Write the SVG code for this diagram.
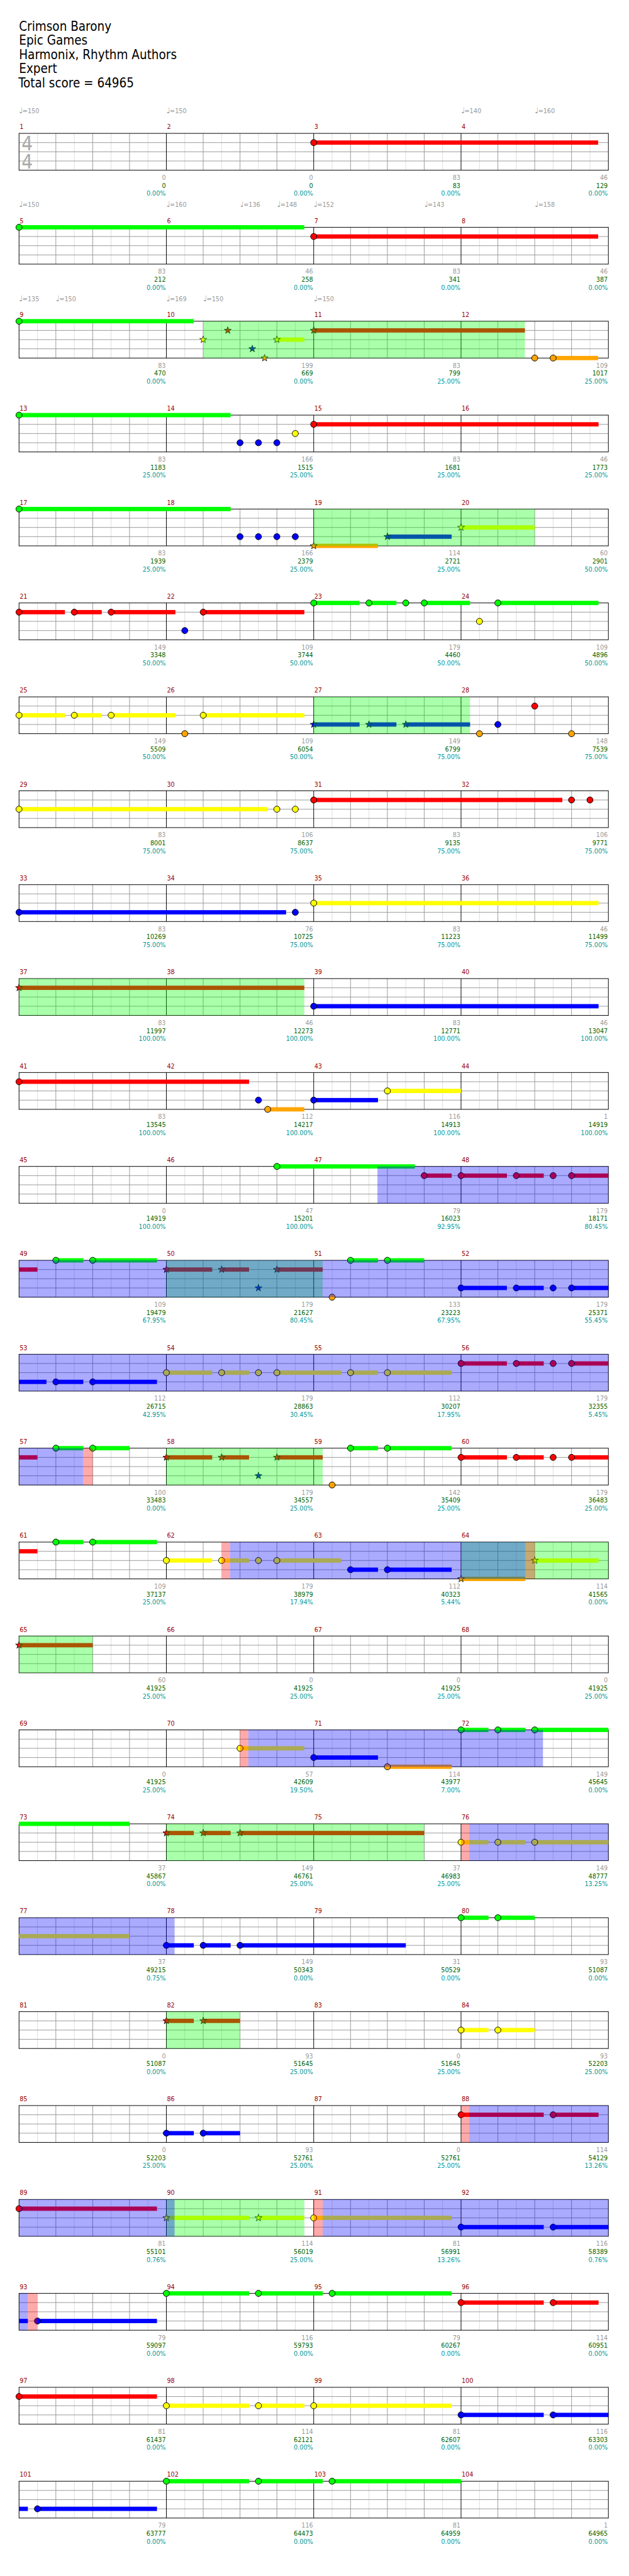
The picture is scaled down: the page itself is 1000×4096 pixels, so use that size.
<svg xmlns="http://www.w3.org/2000/svg" xmlns:xlink="http://www.w3.org/1999/xlink" width="1000" height="4096" viewBox="0 0 1000 4096">
<style>
.ttl{font-family:"DejaVu Sans Condensed","DejaVu Sans",sans-serif;font-stretch:condensed;font-size:21px;fill:#000}
.sm{font-family:"DejaVu Sans Condensed","DejaVu Sans",sans-serif;font-stretch:condensed;font-size:11px}
.mn{fill:#990000}
.tp{fill:#999}
.nt{font-family:"DejaVu Sans",sans-serif;font-stretch:normal;font-size:13px}
.ts{font-size:32px;fill:#aaa}
.a{text-anchor:end;fill:#999}
.c{text-anchor:end;fill:#006400}
.p{text-anchor:end;fill:#009999}
.G{fill:#00ff00}.R{fill:#ff0000}.Y{fill:#ffff00}.B{fill:#0000ff}.O{fill:#ffa500}
.n{stroke:#000;stroke-width:1}
.og{fill:#00ff00;fill-opacity:.333}.ob{fill:#0000ff;fill-opacity:.333}.or{fill:#ff0000;fill-opacity:.333}
</style>
<defs>
<g id="grid" fill="none">
<path stroke="#dddddd" d="M61 0V60M121 0V60M181 0V60M241 0V60M301 0V60M361 0V60M421 0V60M481 0V60M541 0V60M601 0V60M661 0V60M721 0V60M781 0V60M841 0V60M901 0V60M961 0V60"/>
<path stroke="#999999" d="M91 0V60M151 0V60M211 0V60M331 0V60M391 0V60M451 0V60M571 0V60M631 0V60M691 0V60M811 0V60M871 0V60M931 0V60M31 15H991M31 30H991M31 45H991"/>
<path stroke="#000" d="M271 0V60M511 0V60M751 0V60"/>
<rect x="31" y="0" width="960" height="60" stroke="#000"/>
</g>
<polygon id="st" points="0,-6 1.41,-1.94 5.71,-1.85 2.28,0.74 3.53,4.85 0,2.4 -3.53,4.85 -2.28,0.74 -5.71,-1.85 -1.41,-1.94" stroke="#000" stroke-width="0.8"/>
</defs>
<rect width="1000" height="4096" fill="#fff"/>
<g transform="scale(0.976)">
<g id="header" class="ttl">
<text x="31" y="50">Crimson Barony</text>
<text x="31" y="73">Epic Games</text>
<text x="31" y="96">Harmonix, Rhythm Authors</text>
<text x="31" y="119">Expert</text>
<text x="30" y="142">Total score = 64965</text>
</g>

<g id="row1" transform="translate(0,217.3)">
<g class="sm tp">
<text x="31" y="-33"><tspan class="nt">♩</tspan><tspan x="36.7">=150</tspan></text>
<text x="271" y="-33"><tspan class="nt">♩</tspan><tspan x="276.7">=150</tspan></text>
<text x="751" y="-33"><tspan class="nt">♩</tspan><tspan x="756.7">=140</tspan></text>
<text x="871" y="-33"><tspan class="nt">♩</tspan><tspan x="876.7">=160</tspan></text>
</g>
<use href="#grid"/>
<text class="sm ts" x="35" y="27.7">4</text><text class="sm ts" x="35" y="57">4</text>
<rect class="R" x="511" y="11.5" width="463.3" height="7"/>
<circle class="n R" cx="511" cy="15" r="5"/>
<g class="sm mn"><text x="32" y="-7">1</text><text x="272" y="-7">2</text><text x="512" y="-7">3</text><text x="752" y="-7">4</text></g>
<g class="sm">
<text class="a" x="270" y="75.7">0</text><text class="c" x="270" y="88.7">0</text><text class="p" x="270" y="101.7">0.00%</text>
<text class="a" x="510" y="75.7">0</text><text class="c" x="510" y="88.7">0</text><text class="p" x="510" y="101.7">0.00%</text>
<text class="a" x="750" y="75.7">83</text><text class="c" x="750" y="88.7">83</text><text class="p" x="750" y="101.7">0.00%</text>
<text class="a" x="990" y="75.7">46</text><text class="c" x="990" y="88.7">129</text><text class="p" x="990" y="101.7">0.00%</text>
</g>
</g>

<g id="row2" transform="translate(0,370.3)">
<g class="sm tp">
<text x="31" y="-33"><tspan class="nt">♩</tspan><tspan x="36.7">=150</tspan></text>
<text x="271" y="-33"><tspan class="nt">♩</tspan><tspan x="276.7">=160</tspan></text>
<text x="391" y="-33"><tspan class="nt">♩</tspan><tspan x="396.7">=136</tspan></text>
<text x="451" y="-33"><tspan class="nt">♩</tspan><tspan x="456.7">=148</tspan></text>
<text x="511" y="-33"><tspan class="nt">♩</tspan><tspan x="516.7">=152</tspan></text>
<text x="691" y="-33"><tspan class="nt">♩</tspan><tspan x="696.7">=143</tspan></text>
<text x="871" y="-33"><tspan class="nt">♩</tspan><tspan x="876.7">=158</tspan></text>
</g>
<use href="#grid"/>
<rect class="G" x="31" y="-3.5" width="464.7" height="7"/>
<rect class="R" x="511" y="11.5" width="463.3" height="7"/>
<circle class="n G" cx="31" cy="0" r="5"/>
<circle class="n R" cx="511" cy="15" r="5"/>
<g class="sm mn"><text x="32" y="-7">5</text><text x="272" y="-7">6</text><text x="512" y="-7">7</text><text x="752" y="-7">8</text></g>
<g class="sm">
<text class="a" x="270" y="75.7">83</text><text class="c" x="270" y="88.7">212</text><text class="p" x="270" y="101.7">0.00%</text>
<text class="a" x="510" y="75.7">46</text><text class="c" x="510" y="88.7">258</text><text class="p" x="510" y="101.7">0.00%</text>
<text class="a" x="750" y="75.7">83</text><text class="c" x="750" y="88.7">341</text><text class="p" x="750" y="101.7">0.00%</text>
<text class="a" x="990" y="75.7">46</text><text class="c" x="990" y="88.7">387</text><text class="p" x="990" y="101.7">0.00%</text>
</g>
</g>

<g id="row3" transform="translate(0,523.3)">
<g class="sm tp">
<text x="31" y="-33"><tspan class="nt">♩</tspan><tspan x="36.7">=135</tspan></text>
<text x="91" y="-33"><tspan class="nt">♩</tspan><tspan x="96.7">=150</tspan></text>
<text x="271" y="-33"><tspan class="nt">♩</tspan><tspan x="276.7">=169</tspan></text>
<text x="331" y="-33"><tspan class="nt">♩</tspan><tspan x="336.7">=150</tspan></text>
<text x="511" y="-33"><tspan class="nt">♩</tspan><tspan x="516.7">=150</tspan></text>
</g>
<use href="#grid"/>
<rect class="G" x="31" y="-3.5" width="284.7" height="7"/>
<rect class="Y" x="451" y="26.5" width="44.7" height="7"/>
<rect class="R" x="511" y="11.5" width="344" height="7"/>
<rect class="O" x="901" y="56.5" width="73.3" height="7"/>
<circle class="n G" cx="31" cy="0" r="5"/>
<use href="#st" x="331" y="30" class="Y"/>
<use href="#st" x="371" y="15" class="R"/>
<use href="#st" x="411" y="45" class="B"/>
<use href="#st" x="431" y="60" class="O"/>
<use href="#st" x="451" y="30" class="Y"/>
<use href="#st" x="511" y="15" class="R"/>
<circle class="n O" cx="871" cy="60" r="5"/>
<circle class="n O" cx="901" cy="60" r="5"/>
<rect class="og" x="331" y="0" width="524" height="60"/>
<g class="sm mn"><text x="32" y="-7">9</text><text x="272" y="-7">10</text><text x="512" y="-7">11</text><text x="752" y="-7">12</text></g>
<g class="sm">
<text class="a" x="270" y="75.7">83</text><text class="c" x="270" y="88.7">470</text><text class="p" x="270" y="101.7">0.00%</text>
<text class="a" x="510" y="75.7">199</text><text class="c" x="510" y="88.7">669</text><text class="p" x="510" y="101.7">0.00%</text>
<text class="a" x="750" y="75.7">83</text><text class="c" x="750" y="88.7">799</text><text class="p" x="750" y="101.7">25.00%</text>
<text class="a" x="990" y="75.7">109</text><text class="c" x="990" y="88.7">1017</text><text class="p" x="990" y="101.7">25.00%</text>
</g>
</g>

<g id="row4" transform="translate(0,676.3)">
<use href="#grid"/>
<rect class="G" x="31" y="-3.5" width="344.7" height="7"/>
<rect class="R" x="511" y="11.5" width="464" height="7"/>
<circle class="n G" cx="31" cy="0" r="5"/>
<circle class="n B" cx="391" cy="45" r="5"/>
<circle class="n B" cx="421" cy="45" r="5"/>
<circle class="n B" cx="451" cy="45" r="5"/>
<circle class="n Y" cx="481" cy="30" r="5"/>
<circle class="n R" cx="511" cy="15" r="5"/>
<g class="sm mn"><text x="32" y="-7">13</text><text x="272" y="-7">14</text><text x="512" y="-7">15</text><text x="752" y="-7">16</text></g>
<g class="sm">
<text class="a" x="270" y="75.7">83</text><text class="c" x="270" y="88.7">1183</text><text class="p" x="270" y="101.7">25.00%</text>
<text class="a" x="510" y="75.7">166</text><text class="c" x="510" y="88.7">1515</text><text class="p" x="510" y="101.7">25.00%</text>
<text class="a" x="750" y="75.7">83</text><text class="c" x="750" y="88.7">1681</text><text class="p" x="750" y="101.7">25.00%</text>
<text class="a" x="990" y="75.7">46</text><text class="c" x="990" y="88.7">1773</text><text class="p" x="990" y="101.7">25.00%</text>
</g>
</g>

<g id="row5" transform="translate(0,829.3)">
<use href="#grid"/>
<rect class="G" x="31" y="-3.5" width="344.7" height="7"/>
<rect class="O" x="511" y="56.5" width="104.7" height="7"/>
<rect class="B" x="631" y="41.5" width="104.7" height="7"/>
<rect class="Y" x="751" y="26.5" width="120" height="7"/>
<circle class="n G" cx="31" cy="0" r="5"/>
<circle class="n B" cx="391" cy="45" r="5"/>
<circle class="n B" cx="421" cy="45" r="5"/>
<circle class="n B" cx="451" cy="45" r="5"/>
<circle class="n B" cx="481" cy="45" r="5"/>
<use href="#st" x="511" y="60" class="O"/>
<use href="#st" x="631" y="45" class="B"/>
<use href="#st" x="751" y="30" class="Y"/>
<rect class="og" x="511" y="0" width="360" height="60"/>
<g class="sm mn"><text x="32" y="-7">17</text><text x="272" y="-7">18</text><text x="512" y="-7">19</text><text x="752" y="-7">20</text></g>
<g class="sm">
<text class="a" x="270" y="75.7">83</text><text class="c" x="270" y="88.7">1939</text><text class="p" x="270" y="101.7">25.00%</text>
<text class="a" x="510" y="75.7">166</text><text class="c" x="510" y="88.7">2379</text><text class="p" x="510" y="101.7">25.00%</text>
<text class="a" x="750" y="75.7">114</text><text class="c" x="750" y="88.7">2721</text><text class="p" x="750" y="101.7">25.00%</text>
<text class="a" x="990" y="75.7">60</text><text class="c" x="990" y="88.7">2901</text><text class="p" x="990" y="101.7">50.00%</text>
</g>
</g>

<g id="row6" transform="translate(0,982.3)">
<use href="#grid"/>
<rect class="R" x="31" y="11.5" width="74.7" height="7"/>
<rect class="R" x="121" y="11.5" width="44.7" height="7"/>
<rect class="R" x="181" y="11.5" width="104.7" height="7"/>
<rect class="R" x="331" y="11.5" width="164.7" height="7"/>
<rect class="G" x="511" y="-3.5" width="74.7" height="7"/>
<rect class="G" x="601" y="-3.5" width="44.7" height="7"/>
<rect class="G" x="691" y="-3.5" width="74.7" height="7"/>
<rect class="G" x="811" y="-3.5" width="164" height="7"/>
<circle class="n R" cx="31" cy="15" r="5"/>
<circle class="n R" cx="121" cy="15" r="5"/>
<circle class="n R" cx="181" cy="15" r="5"/>
<circle class="n B" cx="301" cy="45" r="5"/>
<circle class="n R" cx="331" cy="15" r="5"/>
<circle class="n G" cx="511" cy="0" r="5"/>
<circle class="n G" cx="601" cy="0" r="5"/>
<circle class="n G" cx="661" cy="0" r="5"/>
<circle class="n G" cx="691" cy="0" r="5"/>
<circle class="n Y" cx="781" cy="30" r="5"/>
<circle class="n G" cx="811" cy="0" r="5"/>
<g class="sm mn"><text x="32" y="-7">21</text><text x="272" y="-7">22</text><text x="512" y="-7">23</text><text x="752" y="-7">24</text></g>
<g class="sm">
<text class="a" x="270" y="75.7">149</text><text class="c" x="270" y="88.7">3348</text><text class="p" x="270" y="101.7">50.00%</text>
<text class="a" x="510" y="75.7">109</text><text class="c" x="510" y="88.7">3744</text><text class="p" x="510" y="101.7">50.00%</text>
<text class="a" x="750" y="75.7">179</text><text class="c" x="750" y="88.7">4460</text><text class="p" x="750" y="101.7">50.00%</text>
<text class="a" x="990" y="75.7">109</text><text class="c" x="990" y="88.7">4896</text><text class="p" x="990" y="101.7">50.00%</text>
</g>
</g>

<g id="row7" transform="translate(0,1135.3)">
<use href="#grid"/>
<rect class="Y" x="31" y="26.5" width="74.7" height="7"/>
<rect class="Y" x="121" y="26.5" width="44.7" height="7"/>
<rect class="Y" x="181" y="26.5" width="104.7" height="7"/>
<rect class="Y" x="331" y="26.5" width="164.7" height="7"/>
<rect class="B" x="511" y="41.5" width="74.7" height="7"/>
<rect class="B" x="601" y="41.5" width="44.7" height="7"/>
<rect class="B" x="661" y="41.5" width="104.7" height="7"/>
<circle class="n Y" cx="31" cy="30" r="5"/>
<circle class="n Y" cx="121" cy="30" r="5"/>
<circle class="n Y" cx="181" cy="30" r="5"/>
<circle class="n O" cx="301" cy="60" r="5"/>
<circle class="n Y" cx="331" cy="30" r="5"/>
<use href="#st" x="511" y="45" class="B"/>
<use href="#st" x="601" y="45" class="B"/>
<use href="#st" x="661" y="45" class="B"/>
<circle class="n O" cx="781" cy="60" r="5"/>
<circle class="n B" cx="811" cy="45" r="5"/>
<circle class="n R" cx="871" cy="15" r="5"/>
<circle class="n O" cx="931" cy="60" r="5"/>
<rect class="og" x="511" y="0" width="254.7" height="60"/>
<g class="sm mn"><text x="32" y="-7">25</text><text x="272" y="-7">26</text><text x="512" y="-7">27</text><text x="752" y="-7">28</text></g>
<g class="sm">
<text class="a" x="270" y="75.7">149</text><text class="c" x="270" y="88.7">5509</text><text class="p" x="270" y="101.7">50.00%</text>
<text class="a" x="510" y="75.7">109</text><text class="c" x="510" y="88.7">6054</text><text class="p" x="510" y="101.7">50.00%</text>
<text class="a" x="750" y="75.7">149</text><text class="c" x="750" y="88.7">6799</text><text class="p" x="750" y="101.7">75.00%</text>
<text class="a" x="990" y="75.7">148</text><text class="c" x="990" y="88.7">7539</text><text class="p" x="990" y="101.7">75.00%</text>
</g>
</g>

<g id="row8" transform="translate(0,1288.3)">
<use href="#grid"/>
<rect class="Y" x="31" y="26.5" width="405" height="7"/>
<rect class="R" x="511" y="11.5" width="405" height="7"/>
<circle class="n Y" cx="31" cy="30" r="5"/>
<circle class="n Y" cx="451" cy="30" r="5"/>
<circle class="n Y" cx="481" cy="30" r="5"/>
<circle class="n R" cx="511" cy="15" r="5"/>
<circle class="n R" cx="931" cy="15" r="5"/>
<circle class="n R" cx="961" cy="15" r="5"/>
<g class="sm mn"><text x="32" y="-7">29</text><text x="272" y="-7">30</text><text x="512" y="-7">31</text><text x="752" y="-7">32</text></g>
<g class="sm">
<text class="a" x="270" y="75.7">83</text><text class="c" x="270" y="88.7">8001</text><text class="p" x="270" y="101.7">75.00%</text>
<text class="a" x="510" y="75.7">106</text><text class="c" x="510" y="88.7">8637</text><text class="p" x="510" y="101.7">75.00%</text>
<text class="a" x="750" y="75.7">83</text><text class="c" x="750" y="88.7">9135</text><text class="p" x="750" y="101.7">75.00%</text>
<text class="a" x="990" y="75.7">106</text><text class="c" x="990" y="88.7">9771</text><text class="p" x="990" y="101.7">75.00%</text>
</g>
</g>

<g id="row9" transform="translate(0,1441.3)">
<use href="#grid"/>
<rect class="B" x="31" y="41.5" width="435" height="7"/>
<rect class="Y" x="511" y="26.5" width="464" height="7"/>
<circle class="n B" cx="31" cy="45" r="5"/>
<circle class="n B" cx="481" cy="45" r="5"/>
<circle class="n Y" cx="511" cy="30" r="5"/>
<g class="sm mn"><text x="32" y="-7">33</text><text x="272" y="-7">34</text><text x="512" y="-7">35</text><text x="752" y="-7">36</text></g>
<g class="sm">
<text class="a" x="270" y="75.7">83</text><text class="c" x="270" y="88.7">10269</text><text class="p" x="270" y="101.7">75.00%</text>
<text class="a" x="510" y="75.7">76</text><text class="c" x="510" y="88.7">10725</text><text class="p" x="510" y="101.7">75.00%</text>
<text class="a" x="750" y="75.7">83</text><text class="c" x="750" y="88.7">11223</text><text class="p" x="750" y="101.7">75.00%</text>
<text class="a" x="990" y="75.7">46</text><text class="c" x="990" y="88.7">11499</text><text class="p" x="990" y="101.7">75.00%</text>
</g>
</g>

<g id="row10" transform="translate(0,1594.3)">
<use href="#grid"/>
<rect class="R" x="31" y="11.5" width="464.7" height="7"/>
<rect class="B" x="511" y="41.5" width="464" height="7"/>
<use href="#st" x="31" y="15" class="R"/>
<circle class="n B" cx="511" cy="45" r="5"/>
<rect class="og" x="31" y="0" width="464.7" height="60"/>
<g class="sm mn"><text x="32" y="-7">37</text><text x="272" y="-7">38</text><text x="512" y="-7">39</text><text x="752" y="-7">40</text></g>
<g class="sm">
<text class="a" x="270" y="75.7">83</text><text class="c" x="270" y="88.7">11997</text><text class="p" x="270" y="101.7">100.00%</text>
<text class="a" x="510" y="75.7">46</text><text class="c" x="510" y="88.7">12273</text><text class="p" x="510" y="101.7">100.00%</text>
<text class="a" x="750" y="75.7">83</text><text class="c" x="750" y="88.7">12771</text><text class="p" x="750" y="101.7">100.00%</text>
<text class="a" x="990" y="75.7">46</text><text class="c" x="990" y="88.7">13047</text><text class="p" x="990" y="101.7">100.00%</text>
</g>
</g>

<g id="row11" transform="translate(0,1747.3)">
<use href="#grid"/>
<rect class="R" x="31" y="11.5" width="374.7" height="7"/>
<rect class="O" x="436" y="56.5" width="59.7" height="7"/>
<rect class="B" x="511" y="41.5" width="104.7" height="7"/>
<rect class="Y" x="631" y="26.5" width="120" height="7"/>
<circle class="n R" cx="31" cy="15" r="5"/>
<circle class="n B" cx="421" cy="45" r="5"/>
<circle class="n O" cx="436" cy="60" r="5"/>
<circle class="n B" cx="511" cy="45" r="5"/>
<circle class="n Y" cx="631" cy="30" r="5"/>
<g class="sm mn"><text x="32" y="-7">41</text><text x="272" y="-7">42</text><text x="512" y="-7">43</text><text x="752" y="-7">44</text></g>
<g class="sm">
<text class="a" x="270" y="75.7">83</text><text class="c" x="270" y="88.7">13545</text><text class="p" x="270" y="101.7">100.00%</text>
<text class="a" x="510" y="75.7">112</text><text class="c" x="510" y="88.7">14217</text><text class="p" x="510" y="101.7">100.00%</text>
<text class="a" x="750" y="75.7">116</text><text class="c" x="750" y="88.7">14913</text><text class="p" x="750" y="101.7">100.00%</text>
<text class="a" x="990" y="75.7">1</text><text class="c" x="990" y="88.7">14919</text><text class="p" x="990" y="101.7">100.00%</text>
</g>
</g>

<g id="row12" transform="translate(0,1900.3)">
<use href="#grid"/>
<rect class="G" x="451" y="-3.5" width="224.7" height="7"/>
<rect class="R" x="691" y="11.5" width="44.7" height="7"/>
<rect class="R" x="751" y="11.5" width="74.7" height="7"/>
<rect class="R" x="841" y="11.5" width="44.7" height="7"/>
<rect class="R" x="931" y="11.5" width="60" height="7"/>
<circle class="n G" cx="451" cy="0" r="5"/>
<circle class="n R" cx="691" cy="15" r="5"/>
<circle class="n R" cx="751" cy="15" r="5"/>
<circle class="n R" cx="841" cy="15" r="5"/>
<circle class="n R" cx="901" cy="15" r="5"/>
<circle class="n R" cx="931" cy="15" r="5"/>
<rect class="ob" x="614.8" y="0" width="376.2" height="60"/>
<g class="sm mn"><text x="32" y="-7">45</text><text x="272" y="-7">46</text><text x="512" y="-7">47</text><text x="752" y="-7">48</text></g>
<g class="sm">
<text class="a" x="270" y="75.7">0</text><text class="c" x="270" y="88.7">14919</text><text class="p" x="270" y="101.7">100.00%</text>
<text class="a" x="510" y="75.7">47</text><text class="c" x="510" y="88.7">15201</text><text class="p" x="510" y="101.7">100.00%</text>
<text class="a" x="750" y="75.7">79</text><text class="c" x="750" y="88.7">16023</text><text class="p" x="750" y="101.7">92.95%</text>
<text class="a" x="990" y="75.7">179</text><text class="c" x="990" y="88.7">18171</text><text class="p" x="990" y="101.7">80.45%</text>
</g>
</g>

<g id="row13" transform="translate(0,2053.3)">
<use href="#grid"/>
<rect class="R" x="31" y="11.5" width="30" height="7"/>
<rect class="G" x="91" y="-3.5" width="44.7" height="7"/>
<rect class="G" x="151" y="-3.5" width="104.7" height="7"/>
<rect class="R" x="271" y="11.5" width="74.7" height="7"/>
<rect class="R" x="361" y="11.5" width="44.7" height="7"/>
<rect class="R" x="451" y="11.5" width="74.7" height="7"/>
<rect class="G" x="571" y="-3.5" width="44.7" height="7"/>
<rect class="G" x="631" y="-3.5" width="60" height="7"/>
<rect class="B" x="751" y="41.5" width="74.7" height="7"/>
<rect class="B" x="841" y="41.5" width="44.7" height="7"/>
<rect class="B" x="931" y="41.5" width="60" height="7"/>
<circle class="n G" cx="91" cy="0" r="5"/>
<circle class="n G" cx="151" cy="0" r="5"/>
<use href="#st" x="271" y="15" class="R"/>
<use href="#st" x="361" y="15" class="R"/>
<use href="#st" x="421" y="45" class="B"/>
<use href="#st" x="451" y="15" class="R"/>
<circle class="n O" cx="541" cy="60" r="5"/>
<circle class="n G" cx="571" cy="0" r="5"/>
<circle class="n G" cx="631" cy="0" r="5"/>
<circle class="n B" cx="751" cy="45" r="5"/>
<circle class="n B" cx="841" cy="45" r="5"/>
<circle class="n B" cx="901" cy="45" r="5"/>
<circle class="n B" cx="931" cy="45" r="5"/>
<rect class="og" x="271" y="0" width="254.7" height="60"/>
<rect class="ob" x="31" y="0" width="960" height="60"/>
<g class="sm mn"><text x="32" y="-7">49</text><text x="272" y="-7">50</text><text x="512" y="-7">51</text><text x="752" y="-7">52</text></g>
<g class="sm">
<text class="a" x="270" y="75.7">109</text><text class="c" x="270" y="88.7">19479</text><text class="p" x="270" y="101.7">67.95%</text>
<text class="a" x="510" y="75.7">179</text><text class="c" x="510" y="88.7">21627</text><text class="p" x="510" y="101.7">80.45%</text>
<text class="a" x="750" y="75.7">133</text><text class="c" x="750" y="88.7">23223</text><text class="p" x="750" y="101.7">67.95%</text>
<text class="a" x="990" y="75.7">179</text><text class="c" x="990" y="88.7">25371</text><text class="p" x="990" y="101.7">55.45%</text>
</g>
</g>

<g id="row14" transform="translate(0,2206.3)">
<use href="#grid"/>
<rect class="B" x="31" y="41.5" width="44.7" height="7"/>
<rect class="B" x="91" y="41.5" width="44.7" height="7"/>
<rect class="B" x="151" y="41.5" width="104.7" height="7"/>
<rect class="Y" x="271" y="26.5" width="74.7" height="7"/>
<rect class="Y" x="361" y="26.5" width="44.7" height="7"/>
<rect class="Y" x="451" y="26.5" width="104.7" height="7"/>
<rect class="Y" x="571" y="26.5" width="44.7" height="7"/>
<rect class="Y" x="631" y="26.5" width="104.7" height="7"/>
<rect class="R" x="751" y="11.5" width="74.7" height="7"/>
<rect class="R" x="841" y="11.5" width="44.7" height="7"/>
<rect class="R" x="931" y="11.5" width="60" height="7"/>
<circle class="n B" cx="91" cy="45" r="5"/>
<circle class="n B" cx="151" cy="45" r="5"/>
<circle class="n Y" cx="271" cy="30" r="5"/>
<circle class="n Y" cx="361" cy="30" r="5"/>
<circle class="n Y" cx="421" cy="30" r="5"/>
<circle class="n Y" cx="451" cy="30" r="5"/>
<circle class="n Y" cx="571" cy="30" r="5"/>
<circle class="n Y" cx="631" cy="30" r="5"/>
<circle class="n R" cx="751" cy="15" r="5"/>
<circle class="n R" cx="841" cy="15" r="5"/>
<circle class="n R" cx="901" cy="15" r="5"/>
<circle class="n R" cx="931" cy="15" r="5"/>
<rect class="ob" x="31" y="0" width="960" height="60"/>
<g class="sm mn"><text x="32" y="-7">53</text><text x="272" y="-7">54</text><text x="512" y="-7">55</text><text x="752" y="-7">56</text></g>
<g class="sm">
<text class="a" x="270" y="75.7">112</text><text class="c" x="270" y="88.7">26715</text><text class="p" x="270" y="101.7">42.95%</text>
<text class="a" x="510" y="75.7">179</text><text class="c" x="510" y="88.7">28863</text><text class="p" x="510" y="101.7">30.45%</text>
<text class="a" x="750" y="75.7">112</text><text class="c" x="750" y="88.7">30207</text><text class="p" x="750" y="101.7">17.95%</text>
<text class="a" x="990" y="75.7">179</text><text class="c" x="990" y="88.7">32355</text><text class="p" x="990" y="101.7">5.45%</text>
</g>
</g>

<g id="row15" transform="translate(0,2359.3)">
<use href="#grid"/>
<rect class="R" x="31" y="11.5" width="30" height="7"/>
<rect class="G" x="91" y="-3.5" width="44.7" height="7"/>
<rect class="G" x="151" y="-3.5" width="60" height="7"/>
<rect class="R" x="271" y="11.5" width="74.7" height="7"/>
<rect class="R" x="361" y="11.5" width="44.7" height="7"/>
<rect class="R" x="451" y="11.5" width="74.7" height="7"/>
<rect class="G" x="571" y="-3.5" width="44.7" height="7"/>
<rect class="G" x="631" y="-3.5" width="104.7" height="7"/>
<rect class="R" x="751" y="11.5" width="74.7" height="7"/>
<rect class="R" x="841" y="11.5" width="44.7" height="7"/>
<rect class="R" x="931" y="11.5" width="60" height="7"/>
<circle class="n G" cx="91" cy="0" r="5"/>
<circle class="n G" cx="151" cy="0" r="5"/>
<use href="#st" x="271" y="15" class="R"/>
<use href="#st" x="361" y="15" class="R"/>
<use href="#st" x="421" y="45" class="B"/>
<use href="#st" x="451" y="15" class="R"/>
<circle class="n O" cx="541" cy="60" r="5"/>
<circle class="n G" cx="571" cy="0" r="5"/>
<circle class="n G" cx="631" cy="0" r="5"/>
<circle class="n R" cx="751" cy="15" r="5"/>
<circle class="n R" cx="841" cy="15" r="5"/>
<circle class="n R" cx="901" cy="15" r="5"/>
<circle class="n R" cx="931" cy="15" r="5"/>
<rect class="ob" x="31" y="0" width="104.7" height="60"/>
<rect class="or" x="135.7" y="0" width="15.3" height="60"/>
<rect class="og" x="271" y="0" width="254.7" height="60"/>
<g class="sm mn"><text x="32" y="-7">57</text><text x="272" y="-7">58</text><text x="512" y="-7">59</text><text x="752" y="-7">60</text></g>
<g class="sm">
<text class="a" x="270" y="75.7">100</text><text class="c" x="270" y="88.7">33483</text><text class="p" x="270" y="101.7">0.00%</text>
<text class="a" x="510" y="75.7">179</text><text class="c" x="510" y="88.7">34557</text><text class="p" x="510" y="101.7">25.00%</text>
<text class="a" x="750" y="75.7">142</text><text class="c" x="750" y="88.7">35409</text><text class="p" x="750" y="101.7">25.00%</text>
<text class="a" x="990" y="75.7">179</text><text class="c" x="990" y="88.7">36483</text><text class="p" x="990" y="101.7">25.00%</text>
</g>
</g>

<g id="row16" transform="translate(0,2512.3)">
<use href="#grid"/>
<rect class="R" x="31" y="11.5" width="30" height="7"/>
<rect class="G" x="91" y="-3.5" width="44.7" height="7"/>
<rect class="G" x="151" y="-3.5" width="104.7" height="7"/>
<rect class="Y" x="271" y="26.5" width="74.7" height="7"/>
<rect class="Y" x="361" y="26.5" width="44.7" height="7"/>
<rect class="Y" x="451" y="26.5" width="104.7" height="7"/>
<rect class="B" x="571" y="41.5" width="44.7" height="7"/>
<rect class="B" x="631" y="41.5" width="104.7" height="7"/>
<rect class="O" x="751" y="56.5" width="104.7" height="7"/>
<rect class="Y" x="871" y="26.5" width="104" height="7"/>
<circle class="n G" cx="91" cy="0" r="5"/>
<circle class="n G" cx="151" cy="0" r="5"/>
<circle class="n Y" cx="271" cy="30" r="5"/>
<circle class="n Y" cx="361" cy="30" r="5"/>
<circle class="n Y" cx="421" cy="30" r="5"/>
<circle class="n Y" cx="451" cy="30" r="5"/>
<circle class="n B" cx="571" cy="45" r="5"/>
<circle class="n B" cx="631" cy="45" r="5"/>
<use href="#st" x="751" y="60" class="O"/>
<use href="#st" x="871" y="30" class="Y"/>
<rect class="og" x="751" y="0" width="240" height="60"/>
<rect class="ob" x="374.5" y="0" width="481.2" height="60"/>
<rect class="or" x="361" y="0" width="13.5" height="60"/>
<rect class="or" x="855.7" y="0" width="15.3" height="60"/>
<g class="sm mn"><text x="32" y="-7">61</text><text x="272" y="-7">62</text><text x="512" y="-7">63</text><text x="752" y="-7">64</text></g>
<g class="sm">
<text class="a" x="270" y="75.7">109</text><text class="c" x="270" y="88.7">37137</text><text class="p" x="270" y="101.7">25.00%</text>
<text class="a" x="510" y="75.7">179</text><text class="c" x="510" y="88.7">38979</text><text class="p" x="510" y="101.7">17.94%</text>
<text class="a" x="750" y="75.7">112</text><text class="c" x="750" y="88.7">40323</text><text class="p" x="750" y="101.7">5.44%</text>
<text class="a" x="990" y="75.7">114</text><text class="c" x="990" y="88.7">41565</text><text class="p" x="990" y="101.7">0.00%</text>
</g>
</g>

<g id="row17" transform="translate(0,2665.3)">
<use href="#grid"/>
<rect class="R" x="31" y="11.5" width="120" height="7"/>
<use href="#st" x="31" y="15" class="R"/>
<rect class="og" x="31" y="0" width="120" height="60"/>
<g class="sm mn"><text x="32" y="-7">65</text><text x="272" y="-7">66</text><text x="512" y="-7">67</text><text x="752" y="-7">68</text></g>
<g class="sm">
<text class="a" x="270" y="75.7">60</text><text class="c" x="270" y="88.7">41925</text><text class="p" x="270" y="101.7">25.00%</text>
<text class="a" x="510" y="75.7">0</text><text class="c" x="510" y="88.7">41925</text><text class="p" x="510" y="101.7">25.00%</text>
<text class="a" x="750" y="75.7">0</text><text class="c" x="750" y="88.7">41925</text><text class="p" x="750" y="101.7">25.00%</text>
<text class="a" x="990" y="75.7">0</text><text class="c" x="990" y="88.7">41925</text><text class="p" x="990" y="101.7">25.00%</text>
</g>
</g>

<g id="row18" transform="translate(0,2818.3)">
<use href="#grid"/>
<rect class="Y" x="391" y="26.5" width="104.7" height="7"/>
<rect class="B" x="511" y="41.5" width="104.7" height="7"/>
<rect class="O" x="631" y="56.5" width="104.7" height="7"/>
<rect class="G" x="751" y="-3.5" width="44.7" height="7"/>
<rect class="G" x="811" y="-3.5" width="44.7" height="7"/>
<rect class="G" x="871" y="-3.5" width="120" height="7"/>
<circle class="n Y" cx="391" cy="30" r="5"/>
<circle class="n B" cx="511" cy="45" r="5"/>
<circle class="n O" cx="631" cy="60" r="5"/>
<circle class="n G" cx="751" cy="0" r="5"/>
<circle class="n G" cx="811" cy="0" r="5"/>
<circle class="n G" cx="871" cy="0" r="5"/>
<rect class="or" x="391" y="0" width="13.5" height="60"/>
<rect class="ob" x="404.5" y="0" width="480" height="60"/>
<g class="sm mn"><text x="32" y="-7">69</text><text x="272" y="-7">70</text><text x="512" y="-7">71</text><text x="752" y="-7">72</text></g>
<g class="sm">
<text class="a" x="270" y="75.7">0</text><text class="c" x="270" y="88.7">41925</text><text class="p" x="270" y="101.7">25.00%</text>
<text class="a" x="510" y="75.7">57</text><text class="c" x="510" y="88.7">42609</text><text class="p" x="510" y="101.7">19.50%</text>
<text class="a" x="750" y="75.7">114</text><text class="c" x="750" y="88.7">43977</text><text class="p" x="750" y="101.7">7.00%</text>
<text class="a" x="990" y="75.7">149</text><text class="c" x="990" y="88.7">45645</text><text class="p" x="990" y="101.7">0.00%</text>
</g>
</g>

<g id="row19" transform="translate(0,2971.3)">
<use href="#grid"/>
<rect class="G" x="31" y="-3.5" width="180" height="7"/>
<rect class="R" x="271" y="11.5" width="44.7" height="7"/>
<rect class="R" x="331" y="11.5" width="44.7" height="7"/>
<rect class="R" x="391" y="11.5" width="300" height="7"/>
<rect class="Y" x="751" y="26.5" width="44.7" height="7"/>
<rect class="Y" x="811" y="26.5" width="44.7" height="7"/>
<rect class="Y" x="871" y="26.5" width="120" height="7"/>
<use href="#st" x="271" y="15" class="R"/>
<use href="#st" x="331" y="15" class="R"/>
<use href="#st" x="391" y="15" class="R"/>
<circle class="n Y" cx="751" cy="30" r="5"/>
<circle class="n Y" cx="811" cy="30" r="5"/>
<circle class="n Y" cx="871" cy="30" r="5"/>
<rect class="og" x="271" y="0" width="420" height="60"/>
<rect class="or" x="751" y="0" width="13.4" height="60"/>
<rect class="ob" x="764.4" y="0" width="226.6" height="60"/>
<g class="sm mn"><text x="32" y="-7">73</text><text x="272" y="-7">74</text><text x="512" y="-7">75</text><text x="752" y="-7">76</text></g>
<g class="sm">
<text class="a" x="270" y="75.7">37</text><text class="c" x="270" y="88.7">45867</text><text class="p" x="270" y="101.7">0.00%</text>
<text class="a" x="510" y="75.7">149</text><text class="c" x="510" y="88.7">46761</text><text class="p" x="510" y="101.7">25.00%</text>
<text class="a" x="750" y="75.7">37</text><text class="c" x="750" y="88.7">46983</text><text class="p" x="750" y="101.7">25.00%</text>
<text class="a" x="990" y="75.7">149</text><text class="c" x="990" y="88.7">48777</text><text class="p" x="990" y="101.7">13.25%</text>
</g>
</g>

<g id="row20" transform="translate(0,3124.3)">
<use href="#grid"/>
<rect class="Y" x="31" y="26.5" width="180" height="7"/>
<rect class="B" x="271" y="41.5" width="44.7" height="7"/>
<rect class="B" x="331" y="41.5" width="44.7" height="7"/>
<rect class="B" x="391" y="41.5" width="270" height="7"/>
<rect class="G" x="751" y="-3.5" width="44.7" height="7"/>
<rect class="G" x="811" y="-3.5" width="60" height="7"/>
<circle class="n B" cx="271" cy="45" r="5"/>
<circle class="n B" cx="331" cy="45" r="5"/>
<circle class="n B" cx="391" cy="45" r="5"/>
<circle class="n G" cx="751" cy="0" r="5"/>
<circle class="n G" cx="811" cy="0" r="5"/>
<rect class="ob" x="31" y="0" width="253.4" height="60"/>
<g class="sm mn"><text x="32" y="-7">77</text><text x="272" y="-7">78</text><text x="512" y="-7">79</text><text x="752" y="-7">80</text></g>
<g class="sm">
<text class="a" x="270" y="75.7">37</text><text class="c" x="270" y="88.7">49215</text><text class="p" x="270" y="101.7">0.75%</text>
<text class="a" x="510" y="75.7">149</text><text class="c" x="510" y="88.7">50343</text><text class="p" x="510" y="101.7">0.00%</text>
<text class="a" x="750" y="75.7">31</text><text class="c" x="750" y="88.7">50529</text><text class="p" x="750" y="101.7">0.00%</text>
<text class="a" x="990" y="75.7">93</text><text class="c" x="990" y="88.7">51087</text><text class="p" x="990" y="101.7">0.00%</text>
</g>
</g>

<g id="row21" transform="translate(0,3277.3)">
<use href="#grid"/>
<rect class="R" x="271" y="11.5" width="44.7" height="7"/>
<rect class="R" x="331" y="11.5" width="60" height="7"/>
<rect class="Y" x="751" y="26.5" width="44.7" height="7"/>
<rect class="Y" x="811" y="26.5" width="60" height="7"/>
<use href="#st" x="271" y="15" class="R"/>
<use href="#st" x="331" y="15" class="R"/>
<circle class="n Y" cx="751" cy="30" r="5"/>
<circle class="n Y" cx="811" cy="30" r="5"/>
<rect class="og" x="271" y="0" width="120" height="60"/>
<g class="sm mn"><text x="32" y="-7">81</text><text x="272" y="-7">82</text><text x="512" y="-7">83</text><text x="752" y="-7">84</text></g>
<g class="sm">
<text class="a" x="270" y="75.7">0</text><text class="c" x="270" y="88.7">51087</text><text class="p" x="270" y="101.7">0.00%</text>
<text class="a" x="510" y="75.7">93</text><text class="c" x="510" y="88.7">51645</text><text class="p" x="510" y="101.7">25.00%</text>
<text class="a" x="750" y="75.7">0</text><text class="c" x="750" y="88.7">51645</text><text class="p" x="750" y="101.7">25.00%</text>
<text class="a" x="990" y="75.7">93</text><text class="c" x="990" y="88.7">52203</text><text class="p" x="990" y="101.7">25.00%</text>
</g>
</g>

<g id="row22" transform="translate(0,3430.3)">
<use href="#grid"/>
<rect class="B" x="271" y="41.5" width="44.7" height="7"/>
<rect class="B" x="331" y="41.5" width="60" height="7"/>
<rect class="R" x="751" y="11.5" width="134.7" height="7"/>
<rect class="R" x="901" y="11.5" width="74" height="7"/>
<circle class="n B" cx="271" cy="45" r="5"/>
<circle class="n B" cx="331" cy="45" r="5"/>
<circle class="n R" cx="751" cy="15" r="5"/>
<circle class="n R" cx="901" cy="15" r="5"/>
<rect class="or" x="751" y="0" width="13.4" height="60"/>
<rect class="ob" x="764.4" y="0" width="226.6" height="60"/>
<g class="sm mn"><text x="32" y="-7">85</text><text x="272" y="-7">86</text><text x="512" y="-7">87</text><text x="752" y="-7">88</text></g>
<g class="sm">
<text class="a" x="270" y="75.7">0</text><text class="c" x="270" y="88.7">52203</text><text class="p" x="270" y="101.7">25.00%</text>
<text class="a" x="510" y="75.7">93</text><text class="c" x="510" y="88.7">52761</text><text class="p" x="510" y="101.7">25.00%</text>
<text class="a" x="750" y="75.7">0</text><text class="c" x="750" y="88.7">52761</text><text class="p" x="750" y="101.7">25.00%</text>
<text class="a" x="990" y="75.7">114</text><text class="c" x="990" y="88.7">54129</text><text class="p" x="990" y="101.7">13.26%</text>
</g>
</g>

<g id="row23" transform="translate(0,3583.3)">
<use href="#grid"/>
<rect class="R" x="31" y="11.5" width="224.7" height="7"/>
<rect class="Y" x="271" y="26.5" width="134.7" height="7"/>
<rect class="Y" x="421" y="26.5" width="74.7" height="7"/>
<rect class="Y" x="511" y="26.5" width="224.7" height="7"/>
<rect class="B" x="751" y="41.5" width="134.7" height="7"/>
<rect class="B" x="901" y="41.5" width="90" height="7"/>
<circle class="n R" cx="31" cy="15" r="5"/>
<use href="#st" x="271" y="30" class="Y"/>
<use href="#st" x="421" y="30" class="Y"/>
<circle class="n Y" cx="511" cy="30" r="5"/>
<circle class="n B" cx="751" cy="45" r="5"/>
<circle class="n B" cx="901" cy="45" r="5"/>
<rect class="og" x="271" y="0" width="224.7" height="60"/>
<rect class="ob" x="31" y="0" width="253.4" height="60"/>
<rect class="or" x="511" y="0" width="14.7" height="60"/>
<rect class="ob" x="525.7" y="0" width="465.3" height="60"/>
<g class="sm mn"><text x="32" y="-7">89</text><text x="272" y="-7">90</text><text x="512" y="-7">91</text><text x="752" y="-7">92</text></g>
<g class="sm">
<text class="a" x="270" y="75.7">81</text><text class="c" x="270" y="88.7">55101</text><text class="p" x="270" y="101.7">0.76%</text>
<text class="a" x="510" y="75.7">114</text><text class="c" x="510" y="88.7">56019</text><text class="p" x="510" y="101.7">25.00%</text>
<text class="a" x="750" y="75.7">81</text><text class="c" x="750" y="88.7">56991</text><text class="p" x="750" y="101.7">13.26%</text>
<text class="a" x="990" y="75.7">116</text><text class="c" x="990" y="88.7">58389</text><text class="p" x="990" y="101.7">0.76%</text>
</g>
</g>

<g id="row24" transform="translate(0,3736.3)">
<use href="#grid"/>
<rect class="B" x="31" y="41.5" width="14.4" height="7"/>
<rect class="B" x="61" y="41.5" width="194.7" height="7"/>
<rect class="G" x="271" y="-3.5" width="134.7" height="7"/>
<rect class="G" x="421" y="-3.5" width="104.7" height="7"/>
<rect class="G" x="541" y="-3.5" width="194.7" height="7"/>
<rect class="R" x="751" y="11.5" width="134.7" height="7"/>
<rect class="R" x="901" y="11.5" width="74" height="7"/>
<circle class="n B" cx="61" cy="45" r="5"/>
<circle class="n G" cx="271" cy="0" r="5"/>
<circle class="n G" cx="421" cy="0" r="5"/>
<circle class="n G" cx="541" cy="0" r="5"/>
<circle class="n R" cx="751" cy="15" r="5"/>
<circle class="n R" cx="901" cy="15" r="5"/>
<rect class="ob" x="31" y="0" width="14.4" height="60"/>
<rect class="or" x="45.4" y="0" width="15.6" height="60"/>
<g class="sm mn"><text x="32" y="-7">93</text><text x="272" y="-7">94</text><text x="512" y="-7">95</text><text x="752" y="-7">96</text></g>
<g class="sm">
<text class="a" x="270" y="75.7">79</text><text class="c" x="270" y="88.7">59097</text><text class="p" x="270" y="101.7">0.00%</text>
<text class="a" x="510" y="75.7">116</text><text class="c" x="510" y="88.7">59793</text><text class="p" x="510" y="101.7">0.00%</text>
<text class="a" x="750" y="75.7">79</text><text class="c" x="750" y="88.7">60267</text><text class="p" x="750" y="101.7">0.00%</text>
<text class="a" x="990" y="75.7">114</text><text class="c" x="990" y="88.7">60951</text><text class="p" x="990" y="101.7">0.00%</text>
</g>
</g>

<g id="row25" transform="translate(0,3889.3)">
<use href="#grid"/>
<rect class="R" x="31" y="11.5" width="224.7" height="7"/>
<rect class="Y" x="271" y="26.5" width="134.7" height="7"/>
<rect class="Y" x="421" y="26.5" width="74.7" height="7"/>
<rect class="Y" x="511" y="26.5" width="224.7" height="7"/>
<rect class="B" x="751" y="41.5" width="134.7" height="7"/>
<rect class="B" x="901" y="41.5" width="90" height="7"/>
<circle class="n R" cx="31" cy="15" r="5"/>
<circle class="n Y" cx="271" cy="30" r="5"/>
<circle class="n Y" cx="421" cy="30" r="5"/>
<circle class="n Y" cx="511" cy="30" r="5"/>
<circle class="n B" cx="751" cy="45" r="5"/>
<circle class="n B" cx="901" cy="45" r="5"/>
<g class="sm mn"><text x="32" y="-7">97</text><text x="272" y="-7">98</text><text x="512" y="-7">99</text><text x="752" y="-7">100</text></g>
<g class="sm">
<text class="a" x="270" y="75.7">81</text><text class="c" x="270" y="88.7">61437</text><text class="p" x="270" y="101.7">0.00%</text>
<text class="a" x="510" y="75.7">114</text><text class="c" x="510" y="88.7">62121</text><text class="p" x="510" y="101.7">0.00%</text>
<text class="a" x="750" y="75.7">81</text><text class="c" x="750" y="88.7">62607</text><text class="p" x="750" y="101.7">0.00%</text>
<text class="a" x="990" y="75.7">116</text><text class="c" x="990" y="88.7">63303</text><text class="p" x="990" y="101.7">0.00%</text>
</g>
</g>

<g id="row26" transform="translate(0,4042.3)">
<use href="#grid"/>
<rect class="B" x="31" y="41.5" width="14.4" height="7"/>
<rect class="B" x="61" y="41.5" width="194.7" height="7"/>
<rect class="G" x="271" y="-3.5" width="134.7" height="7"/>
<rect class="G" x="421" y="-3.5" width="104.7" height="7"/>
<rect class="G" x="541" y="-3.5" width="210" height="7"/>
<circle class="n B" cx="61" cy="45" r="5"/>
<circle class="n G" cx="271" cy="0" r="5"/>
<circle class="n G" cx="421" cy="0" r="5"/>
<circle class="n G" cx="541" cy="0" r="5"/>
<g class="sm mn"><text x="32" y="-7">101</text><text x="272" y="-7">102</text><text x="512" y="-7">103</text><text x="752" y="-7">104</text></g>
<g class="sm">
<text class="a" x="270" y="75.7">79</text><text class="c" x="270" y="88.7">63777</text><text class="p" x="270" y="101.7">0.00%</text>
<text class="a" x="510" y="75.7">116</text><text class="c" x="510" y="88.7">64473</text><text class="p" x="510" y="101.7">0.00%</text>
<text class="a" x="750" y="75.7">81</text><text class="c" x="750" y="88.7">64959</text><text class="p" x="750" y="101.7">0.00%</text>
<text class="a" x="990" y="75.7">1</text><text class="c" x="990" y="88.7">64965</text><text class="p" x="990" y="101.7">0.00%</text>
</g>
</g>
</g>
</svg>
